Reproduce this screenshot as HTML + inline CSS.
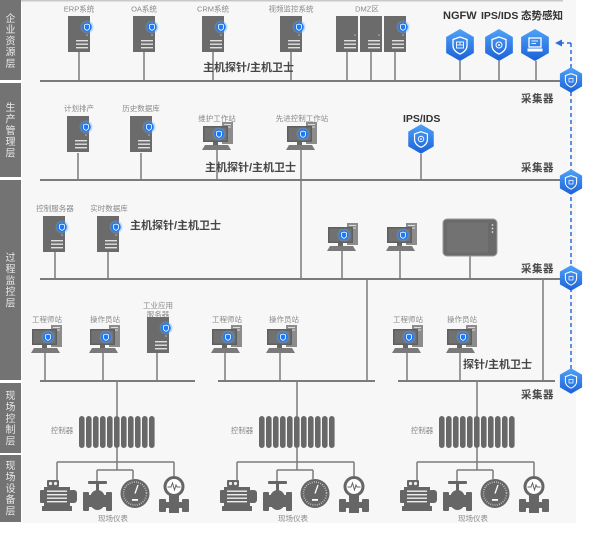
<!DOCTYPE html>
<html><head><meta charset="utf-8">
<style>
html,body{margin:0;padding:0;background:#fff;width:600px;height:539px;overflow:hidden}
svg{display:block}
text{font-family:"Liberation Sans","Noto Sans CJK SC",sans-serif}
.s{font-size:7.5px;fill:#8a8a8a;text-anchor:middle}
.b{font-size:11px;font-weight:bold;fill:#454545}
.c{font-size:10.5px;font-weight:bold;fill:#4a4a4a;letter-spacing:0.5px}
.t{font-size:11px;font-weight:bold;fill:#333}
.v{font-size:10px;fill:#e8e8e8;text-anchor:middle}
</style></head><body>
<svg width="600" height="539" viewBox="0 0 600 539" xmlns="http://www.w3.org/2000/svg">
<defs>
<linearGradient id="hg" x1="0" y1="0" x2="0" y2="1"><stop offset="0" stop-color="#4ea2f8"/><stop offset="1" stop-color="#1b60d8"/></linearGradient>
<g id="badge">
<circle r="6.5" fill="#5aa8ff" opacity=".35"/>
<circle r="4.8" fill="#1e78f2"/>
<path d="M0,-3 L2.6,-2 L2.6,0.4 Q2.6,2.4 0,3.4 Q-2.6,2.4 -2.6,0.4 L-2.6,-2 Z" fill="none" stroke="#fff" stroke-width="0.8"/>
</g>
<g id="srvb">
<rect width="22" height="36" fill="#6b6b6b"/>
<rect x="8" y="24" width="12" height="1.4" fill="#e0e0e0"/>
<rect x="8" y="27.5" width="12" height="1.4" fill="#e0e0e0"/>
<rect x="8" y="31" width="12" height="1.4" fill="#e0e0e0"/>
<circle cx="19" cy="19" r="0.8" fill="#bbb"/>
</g>
<g id="srv"><use href="#srvb"/><g transform="translate(19,11)"><use href="#badge"/></g></g>
<g id="pc">
<rect x="19" y="0" width="11" height="22" fill="#8c8c8c"/>
<rect x="21" y="2" width="7" height="1" fill="#ddd"/>
<rect x="21" y="4.5" width="7" height="1" fill="#ddd"/>
<rect x="0" y="4" width="25" height="16" fill="#5f5f5f"/>
<rect x="1.5" y="5.5" width="22" height="13" fill="#717171"/>
<rect x="10" y="20" width="5" height="3" fill="#666"/>
<polygon points="2,23 25,23 28,28 -1,28" fill="#7a7a7a"/>
<g transform="translate(16,12)"><use href="#badge"/></g>
</g>
<polygon id="hx" points="0,-16 13.86,-8 13.86,8 0,16 -13.86,8 -13.86,-8" fill="url(#hg)"/>
<path id="sh" d="M0,-8 L7,-5.5 L7,0.5 Q7,6 0,9 Q-7,6 -7,0.5 L-7,-5.5 Z" fill="none" stroke="#fff" stroke-width="1.3"/>
<g id="col"><use href="#hx"/><use href="#sh"/><rect x="-2.5" y="-2" width="5" height="4.5" fill="none" stroke="#fff" stroke-width="0.9"/></g>

<g id="fa">
<path d="M117,381V416 M117,448V470 M57,462H174 M57,462V481 M174,462V477 M97,470H133 M97,470V482 M133,470V479" stroke="#7b7b7b" stroke-width="1.5" fill="none"/>
<g fill="#686868">
<rect x="79" y="416" width="5.6" height="32" rx="2.8"/>
<rect x="86" y="416" width="5.6" height="32" rx="2.8"/>
<rect x="93" y="416" width="5.6" height="32" rx="2.8"/>
<rect x="100" y="416" width="5.6" height="32" rx="2.8"/>
<rect x="107" y="416" width="5.6" height="32" rx="2.8"/>
<rect x="114" y="416" width="5.6" height="32" rx="2.8"/>
<rect x="121" y="416" width="5.6" height="32" rx="2.8"/>
<rect x="128" y="416" width="5.6" height="32" rx="2.8"/>
<rect x="135" y="416" width="5.6" height="32" rx="2.8"/>
<rect x="142" y="416" width="5.6" height="32" rx="2.8"/>
<rect x="149" y="416" width="5.6" height="32" rx="2.8"/>
</g>
<g fill="#666">
<rect x="47" y="480" width="12" height="7" rx="1"/>
<rect x="40" y="490" width="6" height="13" rx="1"/>
<rect x="44" y="487" width="26" height="19"/>
<rect x="68" y="490" width="9" height="13" rx="3"/>
<rect x="42" y="506" width="30" height="5"/>
</g>
<circle cx="50.5" cy="483.5" r="1.6" fill="#eee"/><circle cx="55.5" cy="483.5" r="1.6" fill="#eee"/>
<g fill="#eee"><rect x="47" y="490.5" width="20" height="1.4"/><rect x="47" y="494" width="20" height="1.4"/><rect x="47" y="497.5" width="20" height="1.4"/><rect x="47" y="501" width="20" height="1.4"/></g>
<g fill="#666">
<rect x="88" y="481" width="19" height="3" rx="1"/>
<rect x="96" y="483" width="3" height="8"/>
<rect x="83" y="492" width="6" height="19" rx="1"/>
<rect x="106" y="492" width="6" height="19" rx="1"/>
<rect x="87" y="495" width="21" height="12"/>
<ellipse cx="97.5" cy="500" rx="8" ry="10"/>
</g>
<circle cx="135" cy="493.5" r="14.5" fill="#666"/>
<circle cx="135" cy="493.5" r="11.5" fill="none" stroke="#eee" stroke-width="1.6" stroke-dasharray="0.6 1.6"/>
<line x1="135" y1="493.5" x2="138" y2="485" stroke="#fff" stroke-width="1.3"/>
<rect x="132" y="499" width="6" height="1.8" fill="#fff"/>
<g fill="#666">
<rect x="169" y="495" width="10" height="18"/>
<rect x="159" y="499" width="7" height="13" rx="1"/>
<rect x="182" y="499" width="7" height="13" rx="1"/>
<rect x="163" y="502" width="22" height="6"/>
</g>
<circle cx="174" cy="486.5" r="9" fill="#fff" stroke="#666" stroke-width="3"/>
<polyline points="167.5,487 171,487 172.5,483 174.5,490 176,485 177,487 180.5,487" fill="none" stroke="#666" stroke-width="1"/>
</g>
</defs>

<rect x="22" y="0" width="554" height="523" fill="#f7f7f7"/>
<rect x="0" y="0" width="563" height="1.5" fill="#c8c8c8"/>

<g fill="#737373">
<rect x="0" y="0" width="21" height="80"/>
<rect x="0" y="83" width="21" height="94"/>
<rect x="0" y="180" width="21" height="200"/>
<rect x="0" y="383" width="21" height="70"/>
<rect x="0" y="455" width="21" height="67"/>
</g>
<g class="v">
<text x="10.5" y="21.8">企</text><text x="10.5" y="33.1">业</text><text x="10.5" y="44.4">资</text><text x="10.5" y="55.7">源</text><text x="10.5" y="67">层</text>
<text x="10.5" y="111.2">生</text><text x="10.5" y="122.5">产</text><text x="10.5" y="133.8">管</text><text x="10.5" y="145.1">理</text><text x="10.5" y="156.4">层</text>
<text x="10.5" y="261.2">过</text><text x="10.5" y="272.5">程</text><text x="10.5" y="283.8">监</text><text x="10.5" y="295.1">控</text><text x="10.5" y="306.4">层</text>
<text x="10.5" y="399.2">现</text><text x="10.5" y="410.5">场</text><text x="10.5" y="421.8">控</text><text x="10.5" y="433.1">制</text><text x="10.5" y="444.4">层</text>
<text x="10.5" y="469.2">现</text><text x="10.5" y="480.5">场</text><text x="10.5" y="491.8">设</text><text x="10.5" y="503.1">备</text><text x="10.5" y="514.4">层</text>
</g>

<path d="M571,43V381 M571,43H562" stroke="#2d6fd8" stroke-width="1.5" stroke-dasharray="4 3" fill="none"/>
<polygon points="555,43 562,39.5 562,46.5" fill="#2d6fd8"/>

<g stroke="#7b7b7b" fill="none">
<path stroke-width="2" d="M40,81H560 M40,180H560 M40,279H560 M40,381H195 M218,381H375 M398,381H555"/>
<path stroke-width="1.5" d="M79,52V81 M144,52V81 M213,52V81 M291,52V81 M347,52V81 M371,52V81 M395,52V81 M460,61V81 M499,61V81 M536,61V81
M78,153V180 M141,153V180 M217,150V180 M301,150V279 M421,154V180
M55,252V279 M108,252V279 M342,251V279 M400,251V279 M470,256V279
M367,279V381 M543,279V381
M45,353V381 M103,353V381 M157,353V381 M225,353V381 M280,353V381 M407,353V381 M460,353V381"/>
</g>

<g class="s">
<text x="79" y="11.5">ERP系统</text>
<text x="144" y="11.5">OA系统</text>
<text x="213" y="11.5">CRM系统</text>
<text x="291" y="11.5">视频监控系统</text>
<text x="367" y="11.5">DMZ区</text>
</g>
<use href="#srv" x="68" y="16"/>
<use href="#srv" x="133" y="16"/>
<use href="#srv" x="202" y="16"/>
<use href="#srv" x="280" y="16"/>
<use href="#srvb" x="336" y="16"/>
<use href="#srvb" x="360" y="16"/>
<use href="#srv" x="384" y="16"/>
<text class="b" x="203" y="71">主机探针/主机卫士</text>

<text class="t" x="443" y="19">NGFW</text>
<text class="t" x="481" y="19" style="font-size:10.5px">IPS/IDS</text>
<text class="t" x="521" y="19" style="font-size:10.5px">态势感知</text>
<g transform="translate(460,45)"><use href="#hx"/><use href="#sh"/><rect x="-3.5" y="-3" width="7" height="6" fill="none" stroke="#fff" stroke-width="0.9"/><line x1="-3.5" y1="0" x2="3.5" y2="0" stroke="#fff" stroke-width=".8"/><line x1="0" y1="-3" x2="0" y2="0" stroke="#fff" stroke-width=".8"/></g>
<g transform="translate(499,45)"><use href="#hx"/><use href="#sh"/><circle r="3" fill="none" stroke="#fff" stroke-width="1"/><circle r="1" fill="#fff"/></g>
<g transform="translate(535,45)"><use href="#hx"/><rect x="-6" y="-7" width="12" height="9" fill="none" stroke="#fff" stroke-width="1.3"/><line x1="-3.5" y1="-4" x2="3" y2="-4" stroke="#fff" stroke-width=".9"/><line x1="-3.5" y1="-1.5" x2="1" y2="-1.5" stroke="#fff" stroke-width=".9"/><rect x="-7.5" y="3.5" width="15" height="3" fill="#fff"/></g>

<g class="s">
<text x="79" y="111">计划排产</text>
<text x="141" y="111">历史数据库</text>
<text x="217" y="121">维护工作站</text>
<text x="302" y="121">先进控制工作站</text>
</g>
<use href="#srv" x="67" y="116"/>
<use href="#srv" x="130" y="116"/>
<use href="#pc" x="203" y="122"/>
<use href="#pc" x="287" y="122"/>
<text class="b" x="205" y="171">主机探针/主机卫士</text>
<text class="t" x="403" y="122" style="font-size:10.5px">IPS/IDS</text>
<g transform="translate(421,139) scale(0.92)"><use href="#hx"/><use href="#sh"/><circle r="3" fill="none" stroke="#fff" stroke-width="1"/><circle r="1" fill="#fff"/></g>

<g class="s">
<text x="55" y="211">控制服务器</text>
<text x="109" y="211">实时数据库</text>
</g>
<use href="#srv" x="43" y="216"/>
<use href="#srv" x="97" y="216"/>
<text class="b" x="130" y="229">主机探针/主机卫士</text>
<use href="#pc" x="328" y="223"/>
<use href="#pc" x="387" y="223"/>
<rect x="443" y="219" width="54" height="37" rx="4" fill="#6a6a6a" stroke="#9a9a9a" stroke-width="1"/>
<rect x="447" y="222.5" width="41" height="30" rx="2" fill="#727272"/>
<circle cx="492.5" cy="225" r="0.9" fill="#ddd"/><circle cx="492.5" cy="228.5" r="0.9" fill="#ddd"/><circle cx="492.5" cy="232" r="0.9" fill="#ddd"/>

<g class="s">
<text x="47" y="322">工程师站</text>
<text x="105" y="322">操作员站</text>
<text x="158" y="308">工业应用</text>
<text x="158" y="317">服务器</text>
<text x="227" y="322">工程师站</text>
<text x="284" y="322">操作员站</text>
<text x="408" y="322">工程师站</text>
<text x="462" y="322">操作员站</text>
</g>
<use href="#pc" x="32" y="325"/>
<use href="#pc" x="90" y="325"/>
<use href="#srv" x="147" y="317"/>
<use href="#pc" x="212" y="325"/>
<use href="#pc" x="267" y="325"/>
<use href="#pc" x="393" y="325"/>
<use href="#pc" x="447" y="325"/>
<text class="b" x="463" y="368">探针/主机卫士</text>

<use href="#fa"/>
<use href="#fa" x="180"/>
<use href="#fa" x="360"/>
<g class="s">
<text x="62" y="433">控制器</text>
<text x="242" y="433">控制器</text>
<text x="422" y="433">控制器</text>
<text x="113" y="521">现场仪表</text>
<text x="293" y="521">现场仪表</text>
<text x="473" y="521">现场仪表</text>
</g>

<text class="c" x="521" y="102">采集器</text>
<text class="c" x="521" y="171">采集器</text>
<text class="c" x="521" y="272">采集器</text>
<text class="c" x="521" y="398">采集器</text>
<g transform="translate(571,80) scale(0.8)"><use href="#col"/></g>
<g transform="translate(571,182) scale(0.8)"><use href="#col"/></g>
<g transform="translate(571,278) scale(0.8)"><use href="#col"/></g>
<g transform="translate(571,381) scale(0.8)"><use href="#col"/></g>
</svg>
</body></html>
